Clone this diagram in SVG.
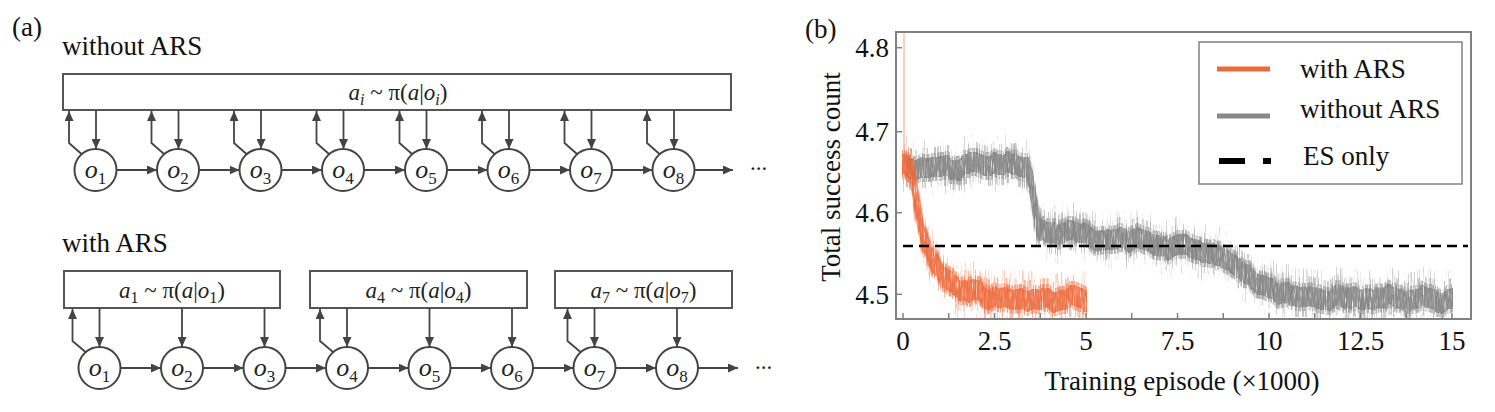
<svg xmlns="http://www.w3.org/2000/svg" xmlns:xlink="http://www.w3.org/1999/xlink" width="1495" height="412" viewBox="0 0 1495 412">
<style>
.t{font-family:"Liberation Serif","Times New Roman","DejaVu Serif",serif;font-size:27px;fill:#111}
.m{font-family:"Liberation Serif","Times New Roman","DejaVu Serif",serif;font-size:23px;fill:#222}
.c{font-family:"Liberation Serif","Times New Roman","DejaVu Serif",serif;font-size:26px;fill:#222}
.it{font-style:italic}
.sb{font-size:16px}
.sc{font-size:17px}
.box{fill:#fff;stroke:#555;stroke-width:2}
.node{fill:#fff;stroke:#444;stroke-width:2}
.cn{fill:none;stroke:#444;stroke-width:1.8;marker-end:url(#ah)}
.ax{fill:none;stroke:#808080;stroke-width:2}
.tk{stroke:#808080;stroke-width:1.5}
</style>
<defs>
<marker id="ah" viewBox="0 0 10 9" refX="10" refY="4.5" markerWidth="10" markerHeight="9" markerUnits="userSpaceOnUse" orient="auto"><path d="M0,0 L10,4.5 L0,9 z" fill="#444"/></marker>
<clipPath id="pc"><rect x="897" y="33" width="573" height="285"/></clipPath>
<path id="gmean" fill="none" stroke-width="2" d="M906,166 L1027,166 L1031,176 L1034,200 L1037,222 L1041,231 L1060,234 L1100,238 L1150,243 L1180,247 L1200,250 L1217,255 L1235,264 L1250,275 L1265,285 L1277,291 L1290,296 L1305,298 L1452,299"/>
<path id="omean" fill="none" stroke-width="2" d="M903,165 L911,165 L914,185 L917,205 L920,225 L924,241 L929,252 L935,264 L942,274 L950,282 L960,289 L972,294 L990,298 L1020,299 L1086,299"/>
<filter id="fA" filterUnits="userSpaceOnUse" x="880" y="0" width="600" height="340" color-interpolation-filters="sRGB">
<feTurbulence type="fractalNoise" baseFrequency="0.06 0.01" numOctaves="4" seed="3" result="w"/>
<feColorMatrix in="w" type="matrix" values="1 0 0 0 0  0 0 0 0 0.5  0 0 0 0 0  0 0 0 0 1" result="w2"/>
<feDisplacementMap in="SourceGraphic" in2="w2" scale="20" xChannelSelector="G" yChannelSelector="R" result="d"/>
<feMorphology in="d" operator="dilate" radius="1 27" result="b"/>
<feTurbulence type="fractalNoise" baseFrequency="0.9 0.02" numOctaves="1" seed="11" result="t"/>
<feColorMatrix in="t" type="matrix" values="0 0 0 0 0  0 0 0 0 0  0 0 0 0 0  8 0 0 0 -4.9" result="m"/>
<feComposite in="b" in2="m" operator="in"/>
</filter>
<filter id="fB" filterUnits="userSpaceOnUse" x="880" y="0" width="600" height="340" color-interpolation-filters="sRGB">
<feTurbulence type="fractalNoise" baseFrequency="0.06 0.01" numOctaves="4" seed="3" result="w"/>
<feColorMatrix in="w" type="matrix" values="1 0 0 0 0  0 0 0 0 0.5  0 0 0 0 0  0 0 0 0 1" result="w2"/>
<feDisplacementMap in="SourceGraphic" in2="w2" scale="20" xChannelSelector="G" yChannelSelector="R" result="d"/>
<feMorphology in="d" operator="dilate" radius="1 19" result="b"/>
<feTurbulence type="fractalNoise" baseFrequency="0.9 0.03" numOctaves="1" seed="23" result="t"/>
<feColorMatrix in="t" type="matrix" values="0 0 0 0 0  0 0 0 0 0  0 0 0 0 0  6 0 0 0 -3.1" result="m"/>
<feComposite in="b" in2="m" operator="in"/>
</filter>
<filter id="fC" filterUnits="userSpaceOnUse" x="880" y="0" width="600" height="340" color-interpolation-filters="sRGB">
<feTurbulence type="fractalNoise" baseFrequency="0.06 0.01" numOctaves="4" seed="3" result="w"/>
<feColorMatrix in="w" type="matrix" values="1 0 0 0 0  0 0 0 0 0.5  0 0 0 0 0  0 0 0 0 1" result="w2"/>
<feDisplacementMap in="SourceGraphic" in2="w2" scale="20" xChannelSelector="G" yChannelSelector="R" result="d"/>
<feMorphology in="d" operator="dilate" radius="1 13" result="b"/>
<feTurbulence type="fractalNoise" baseFrequency="0.9 0.06" numOctaves="1" seed="5" result="t"/>
<feColorMatrix in="t" type="matrix" values="0 0 0 0 0  0 0 0 0 0  0 0 0 0 0  5 0 0 0 -1.8" result="m"/>
<feComposite in="b" in2="m" operator="in"/>
</filter>
<filter id="fD" filterUnits="userSpaceOnUse" x="880" y="0" width="600" height="340" color-interpolation-filters="sRGB">
<feTurbulence type="fractalNoise" baseFrequency="0.06 0.01" numOctaves="4" seed="3" result="w"/>
<feColorMatrix in="w" type="matrix" values="1 0 0 0 0  0 0 0 0 0.5  0 0 0 0 0  0 0 0 0 1" result="w2"/>
<feDisplacementMap in="SourceGraphic" in2="w2" scale="20" xChannelSelector="G" yChannelSelector="R" result="d"/>
<feMorphology in="d" operator="dilate" radius="1 9" result="b"/>
<feTurbulence type="fractalNoise" baseFrequency="0.9 0.1" numOctaves="1" seed="9" result="t"/>
<feColorMatrix in="t" type="matrix" values="0 0 0 0 0  0 0 0 0 0  0 0 0 0 0  4 0 0 0 -0.9" result="m"/>
<feComposite in="b" in2="m" operator="in"/>
</filter>
</defs>
<rect width="1495" height="412" fill="#fff"/>

<!-- Panel (a) -->
<g id="panel-a-labels">
<text class="t" x="12" y="36">(a)</text>
<text class="t" x="62" y="55">without ARS</text>
<text class="t" x="62" y="252">with ARS</text>
<text class="m" x="750" y="170">...</text>
<text class="m" x="755" y="369">...</text>
</g>

<g id="policy-all">
<rect class="box" x="63" y="74" width="668" height="36"/>
<text class="m" x="398" y="100" text-anchor="middle"><tspan class="it">a</tspan><tspan class="sb it" dy="5">i</tspan><tspan dy="-5"> ~ π(</tspan><tspan class="it">a</tspan><tspan>|</tspan><tspan class="it">o</tspan><tspan class="sb it" dy="5">i</tspan><tspan dy="-5">)</tspan></text>
</g>
<g id="policy-1">
<rect class="box" x="64" y="271" width="216" height="37"/>
<text class="m" x="172" y="298" text-anchor="middle"><tspan class="it">a</tspan><tspan class="sb" dy="5">1</tspan><tspan dy="-5"> ~ π(</tspan><tspan class="it">a</tspan><tspan>|</tspan><tspan class="it">o</tspan><tspan class="sb" dy="5">1</tspan><tspan dy="-5">)</tspan></text>
</g>
<g id="policy-4">
<rect class="box" x="310" y="271" width="217" height="37"/>
<text class="m" x="418.5" y="298" text-anchor="middle"><tspan class="it">a</tspan><tspan class="sb" dy="5">4</tspan><tspan dy="-5"> ~ π(</tspan><tspan class="it">a</tspan><tspan>|</tspan><tspan class="it">o</tspan><tspan class="sb" dy="5">4</tspan><tspan dy="-5">)</tspan></text>
</g>
<g id="policy-7">
<rect class="box" x="555" y="271" width="177" height="37"/>
<text class="m" x="643.5" y="298" text-anchor="middle"><tspan class="it">a</tspan><tspan class="sb" dy="5">7</tspan><tspan dy="-5"> ~ π(</tspan><tspan class="it">a</tspan><tspan>|</tspan><tspan class="it">o</tspan><tspan class="sb" dy="5">7</tspan><tspan dy="-5">)</tspan></text>
</g>

<g id="top-o1"><circle class="node" cx="95.5" cy="170" r="21"/><text class="c" x="95.5" y="178" text-anchor="middle"><tspan class="it">o</tspan><tspan class="sc" dy="6">1</tspan></text></g>
<g id="top-o2"><circle class="node" cx="178" cy="170" r="21"/><text class="c" x="178" y="178" text-anchor="middle"><tspan class="it">o</tspan><tspan class="sc" dy="6">2</tspan></text></g>
<g id="top-o3"><circle class="node" cx="260.5" cy="170" r="21"/><text class="c" x="260.5" y="178" text-anchor="middle"><tspan class="it">o</tspan><tspan class="sc" dy="6">3</tspan></text></g>
<g id="top-o4"><circle class="node" cx="343" cy="170" r="21"/><text class="c" x="343" y="178" text-anchor="middle"><tspan class="it">o</tspan><tspan class="sc" dy="6">4</tspan></text></g>
<g id="top-o5"><circle class="node" cx="426" cy="170" r="21"/><text class="c" x="426" y="178" text-anchor="middle"><tspan class="it">o</tspan><tspan class="sc" dy="6">5</tspan></text></g>
<g id="top-o6"><circle class="node" cx="508.5" cy="170" r="21"/><text class="c" x="508.5" y="178" text-anchor="middle"><tspan class="it">o</tspan><tspan class="sc" dy="6">6</tspan></text></g>
<g id="top-o7"><circle class="node" cx="591" cy="170" r="21"/><text class="c" x="591" y="178" text-anchor="middle"><tspan class="it">o</tspan><tspan class="sc" dy="6">7</tspan></text></g>
<g id="top-o8"><circle class="node" cx="673.5" cy="170" r="21"/><text class="c" x="673.5" y="178" text-anchor="middle"><tspan class="it">o</tspan><tspan class="sc" dy="6">8</tspan></text></g>

<g id="bot-o1"><circle class="node" cx="99.5" cy="368" r="21"/><text class="c" x="99.5" y="376" text-anchor="middle"><tspan class="it">o</tspan><tspan class="sc" dy="6">1</tspan></text></g>
<g id="bot-o2"><circle class="node" cx="182" cy="368" r="21"/><text class="c" x="182" y="376" text-anchor="middle"><tspan class="it">o</tspan><tspan class="sc" dy="6">2</tspan></text></g>
<g id="bot-o3"><circle class="node" cx="264.5" cy="368" r="21"/><text class="c" x="264.5" y="376" text-anchor="middle"><tspan class="it">o</tspan><tspan class="sc" dy="6">3</tspan></text></g>
<g id="bot-o4"><circle class="node" cx="347" cy="368" r="21"/><text class="c" x="347" y="376" text-anchor="middle"><tspan class="it">o</tspan><tspan class="sc" dy="6">4</tspan></text></g>
<g id="bot-o5"><circle class="node" cx="429.5" cy="368" r="21"/><text class="c" x="429.5" y="376" text-anchor="middle"><tspan class="it">o</tspan><tspan class="sc" dy="6">5</tspan></text></g>
<g id="bot-o6"><circle class="node" cx="512" cy="368" r="21"/><text class="c" x="512" y="376" text-anchor="middle"><tspan class="it">o</tspan><tspan class="sc" dy="6">6</tspan></text></g>
<g id="bot-o7"><circle class="node" cx="594.5" cy="368" r="21"/><text class="c" x="594.5" y="376" text-anchor="middle"><tspan class="it">o</tspan><tspan class="sc" dy="6">7</tspan></text></g>
<g id="bot-o8"><circle class="node" cx="677" cy="368" r="21"/><text class="c" x="677" y="376" text-anchor="middle"><tspan class="it">o</tspan><tspan class="sc" dy="6">8</tspan></text></g>

<g id="connectors">
<path class="cn" d="M81.5,154 L69,143 L69,111"/>
<path class="cn" d="M164,154 L151.5,143 L151.5,111"/>
<path class="cn" d="M246.5,154 L234,143 L234,111"/>
<path class="cn" d="M329,154 L316.5,143 L316.5,111"/>
<path class="cn" d="M412,154 L399.5,143 L399.5,111"/>
<path class="cn" d="M494.5,154 L482,143 L482,111"/>
<path class="cn" d="M577,154 L564.5,143 L564.5,111"/>
<path class="cn" d="M659.5,154 L647,143 L647,111"/>
<path class="cn" d="M96,110 L96,149"/>
<path class="cn" d="M178.5,110 L178.5,149"/>
<path class="cn" d="M261,110 L261,149"/>
<path class="cn" d="M343.5,110 L343.5,149"/>
<path class="cn" d="M426.5,110 L426.5,149"/>
<path class="cn" d="M509,110 L509,149"/>
<path class="cn" d="M591.5,110 L591.5,149"/>
<path class="cn" d="M674,110 L674,149"/>
<path class="cn" d="M116.5,170 L157,170"/>
<path class="cn" d="M199,170 L239.5,170"/>
<path class="cn" d="M281.5,170 L322,170"/>
<path class="cn" d="M364,170 L405,170"/>
<path class="cn" d="M447,170 L487.5,170"/>
<path class="cn" d="M529.5,170 L570,170"/>
<path class="cn" d="M612,170 L652.5,170"/>
<path class="cn" d="M694.5,170 L733,170"/>
<path class="cn" d="M85.5,352 L72.5,341 L72.5,309"/>
<path class="cn" d="M333,352 L320,341 L320,309"/>
<path class="cn" d="M580.5,352 L567.5,341 L567.5,309"/>
<path class="cn" d="M99.5,308 L99.5,347"/>
<path class="cn" d="M182,308 L182,347"/>
<path class="cn" d="M264.5,308 L264.5,347"/>
<path class="cn" d="M347,308 L347,347"/>
<path class="cn" d="M429.5,308 L429.5,347"/>
<path class="cn" d="M512,308 L512,347"/>
<path class="cn" d="M594.5,308 L594.5,347"/>
<path class="cn" d="M677,308 L677,347"/>
<path class="cn" d="M120.5,368 L161,368"/>
<path class="cn" d="M203,368 L243.5,368"/>
<path class="cn" d="M285.5,368 L326,368"/>
<path class="cn" d="M368,368 L408.5,368"/>
<path class="cn" d="M450.5,368 L491,368"/>
<path class="cn" d="M533,368 L573.5,368"/>
<path class="cn" d="M615.5,368 L656,368"/>
<path class="cn" d="M698,368 L738,368"/>
</g>

<!-- Panel (b) -->
<g id="plot">
<text class="t" x="805" y="38">(b)</text>
<g clip-path="url(#pc)">
<g id="curve-without">
<use xlink:href="#gmean" stroke="#a0a0a0" stroke-opacity="0.5" filter="url(#fA)"/>
<use xlink:href="#gmean" stroke="#969696" stroke-opacity="0.55" filter="url(#fB)"/>
<use xlink:href="#gmean" stroke="#8c8c8c" stroke-opacity="0.65" filter="url(#fC)"/>
<use xlink:href="#gmean" stroke="#808080" stroke-opacity="0.8" filter="url(#fD)"/>
</g>
<g id="curve-with">
<line x1="904" y1="33" x2="904" y2="165" stroke="#f5a585" stroke-width="1"/>
<use xlink:href="#omean" stroke="#f39a78" stroke-opacity="0.5" filter="url(#fA)"/>
<use xlink:href="#omean" stroke="#f08459" stroke-opacity="0.55" filter="url(#fB)"/>
<use xlink:href="#omean" stroke="#ee7245" stroke-opacity="0.65" filter="url(#fC)"/>
<use xlink:href="#omean" stroke="#ec6637" stroke-opacity="0.8" filter="url(#fD)"/>
</g>
<line id="es-only" x1="903" y1="246" x2="1468" y2="246" stroke="#000" stroke-width="2.5" stroke-dasharray="10 6"/>
</g>
<rect class="ax" x="896" y="32" width="575" height="287"/>
<g id="yticks">
<line class="tk" x1="896" y1="47.7" x2="902" y2="47.7"/>
<line class="tk" x1="896" y1="131.7" x2="902" y2="131.7"/>
<line class="tk" x1="896" y1="212.7" x2="902" y2="212.7"/>
<line class="tk" x1="896" y1="294.3" x2="902" y2="294.3"/>
<text class="t" x="889" y="57.2" text-anchor="end">4.8</text>
<text class="t" x="889" y="141.2" text-anchor="end">4.7</text>
<text class="t" x="889" y="222.2" text-anchor="end">4.6</text>
<text class="t" x="889" y="303.8" text-anchor="end">4.5</text>
</g>
<g id="xticks">
<line class="tk" x1="903" y1="319" x2="903" y2="313"/>
<line class="tk" x1="948.75" y1="319" x2="948.75" y2="313"/>
<line class="tk" x1="994.5" y1="319" x2="994.5" y2="313"/>
<line class="tk" x1="1040.25" y1="319" x2="1040.25" y2="313"/>
<line class="tk" x1="1086" y1="319" x2="1086" y2="313"/>
<line class="tk" x1="1131.75" y1="319" x2="1131.75" y2="313"/>
<line class="tk" x1="1177.5" y1="319" x2="1177.5" y2="313"/>
<line class="tk" x1="1223.25" y1="319" x2="1223.25" y2="313"/>
<line class="tk" x1="1269" y1="319" x2="1269" y2="313"/>
<line class="tk" x1="1314.75" y1="319" x2="1314.75" y2="313"/>
<line class="tk" x1="1360.5" y1="319" x2="1360.5" y2="313"/>
<line class="tk" x1="1406.25" y1="319" x2="1406.25" y2="313"/>
<line class="tk" x1="1452" y1="319" x2="1452" y2="313"/>
<text class="t" x="903" y="350" text-anchor="middle">0</text>
<text class="t" x="994.5" y="350" text-anchor="middle">2.5</text>
<text class="t" x="1086" y="350" text-anchor="middle">5</text>
<text class="t" x="1177.5" y="350" text-anchor="middle">7.5</text>
<text class="t" x="1269" y="350" text-anchor="middle">10</text>
<text class="t" x="1360.5" y="350" text-anchor="middle">12.5</text>
<text class="t" x="1452" y="350" text-anchor="middle">15</text>
</g>
<text class="t" x="1182" y="390" text-anchor="middle">Training episode (×1000)</text>
<text class="t" text-anchor="middle" transform="translate(840,177) rotate(-90)">Total success count</text>
<g id="legend">
<rect x="1199" y="42" width="263" height="142" fill="#fff" stroke="#808080" stroke-width="1.5"/>
<line x1="1217" y1="69" x2="1270" y2="69" stroke="#ee6a3b" stroke-width="5"/>
<line x1="1217" y1="116" x2="1270" y2="116" stroke="#888" stroke-width="5"/>
<rect x="1219" y="158" width="26" height="6" fill="#000"/>
<rect x="1263" y="158" width="8" height="6" fill="#000"/>
<text class="t" x="1300" y="78">with ARS</text>
<text class="t" x="1300" y="118">without ARS</text>
<text class="t" x="1303" y="165">ES only</text>
</g>
</g>
</svg>
